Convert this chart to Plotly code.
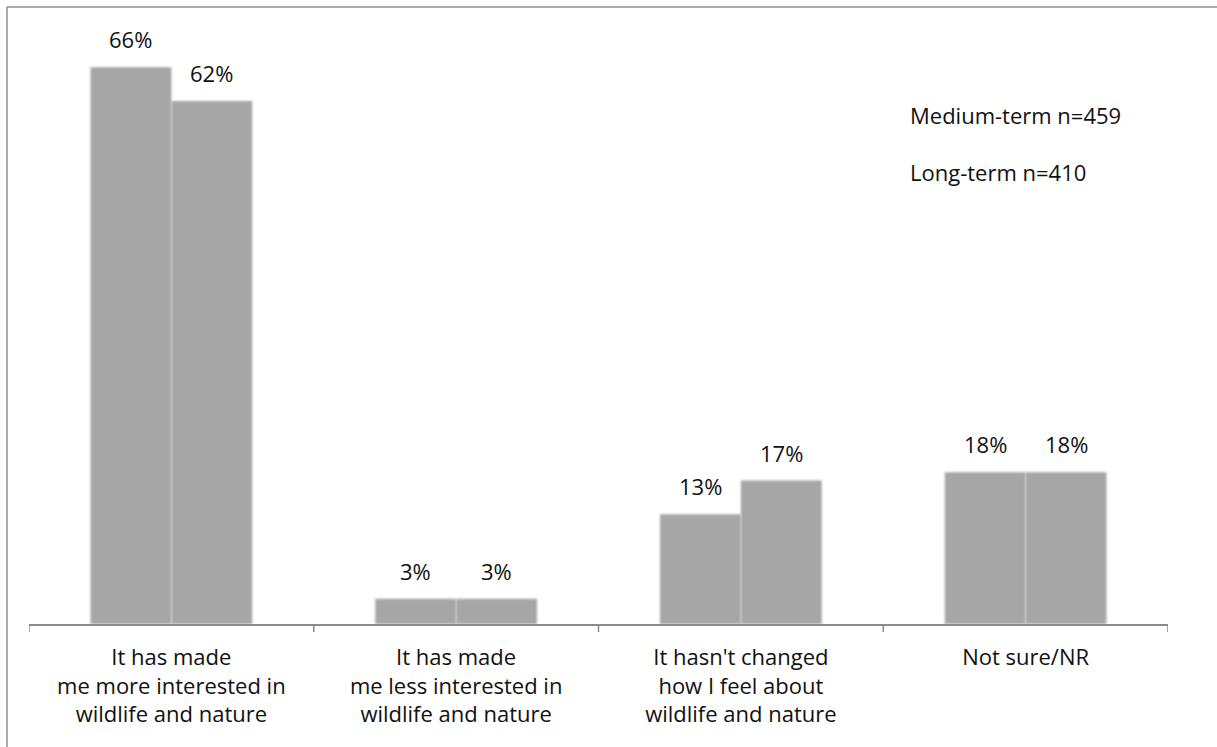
import plotly.graph_objects as go

# Survey responses: how the experience changed interest in wildlife and nature
categories = [
    "It has made<br>me more interested in<br>wildlife and nature",
    "It has made<br>me less interested in<br>wildlife and nature",
    "It hasn't changed<br>how I feel about<br>wildlife and nature",
    "Not sure/NR",
]
medium_term = [66, 3, 13, 18]
long_term = [62, 3, 17, 18]
series_names = ["Medium-term n=459", "Long-term n=410"]

BAR_COLOR = "#a6a6a6"
FONT = "Open Sans"
FS = 22
W, H = 1217, 747
L, R, T, B = 29, 49, 20, 123
BAR_W = 0.284

fig = go.Figure()
x_idx = list(range(len(categories)))
for vals, name, off in [(medium_term, series_names[0], -BAR_W), (long_term, series_names[1], 0.0)]:
    fig.add_trace(go.Bar(
        x=x_idx, y=vals, name=name, width=BAR_W, offset=off,
        marker=dict(color=BAR_COLOR, line=dict(width=0)),
        showlegend=False, hoverinfo="skip",
    ))
    for i, v in enumerate(vals):
        fig.add_annotation(
            x=i + off + BAR_W / 2, y=v, xref="x", yref="y",
            text=f"{v}%", showarrow=False, yanchor="bottom", yshift=11,
            font=dict(family=FONT, size=FS, color="#111111"),
        )

# Series captions at the upper right
for name, yp in zip(series_names, [0.842, 0.749]):
    fig.add_annotation(
        x=0.772, y=yp, xref="paper", yref="paper", text=name,
        showarrow=False, xanchor="left", yanchor="middle",
        font=dict(family=FONT, size=FS, color="#111111"),
    )

plot_w = W - L - R
plot_h = H - T - B
# Outer frame: top and left edges
fx0 = (7 - L) / plot_w
fy0 = (H - B - 7) / plot_h
fig.add_shape(type="line", xref="paper", yref="paper", x0=fx0, x1=(W + 5 - L) / plot_w,
              y0=fy0, y1=fy0, line=dict(color="#8f8f8f", width=1.5))
fig.add_shape(type="line", xref="paper", yref="paper", x0=fx0, x1=fx0,
              y0=fy0, y1=-(B + 5) / plot_h, line=dict(color="#8f8f8f", width=1.5))

fig.update_layout(
    width=W, height=H,
    margin=dict(l=L, r=R, t=T, b=B, pad=0),
    paper_bgcolor="white", plot_bgcolor="white",
    barmode="overlay",
    font=dict(family=FONT, size=FS, color="#111111"),
    xaxis=dict(
        range=[-0.5, len(categories) - 0.5],
        tickmode="array", tickvals=x_idx, ticktext=categories,
        showline=True, linecolor="#8a8a8a", linewidth=1.5,
        ticks="", showgrid=False, zeroline=False,
        ticklabelstandoff=13,
        tickfont=dict(family=FONT, size=FS, color="#111111"),
    ),
    yaxis=dict(range=[0, 71.6], visible=False, showgrid=False, zeroline=False),
)

# Boundary tick marks between categories
for k in range(len(categories) + 1):
    fig.add_shape(type="line", xref="x", yref="paper", x0=k - 0.5, x1=k - 0.5,
                  y0=0, y1=-8 / plot_h, line=dict(color="#8a8a8a", width=1.5))

# Soft edges on the bar rectangles
soften_js = """
var gd = document.getElementById('{plot_id}');
function soften() {
  gd.querySelectorAll('.barlayer .trace').forEach(function (t) {
    t.style.filter = 'blur(1.3px)';
  });
}
soften();
gd.on('plotly_afterplot', soften);
"""

fig.write_html("out.html", post_script=soften_js)
